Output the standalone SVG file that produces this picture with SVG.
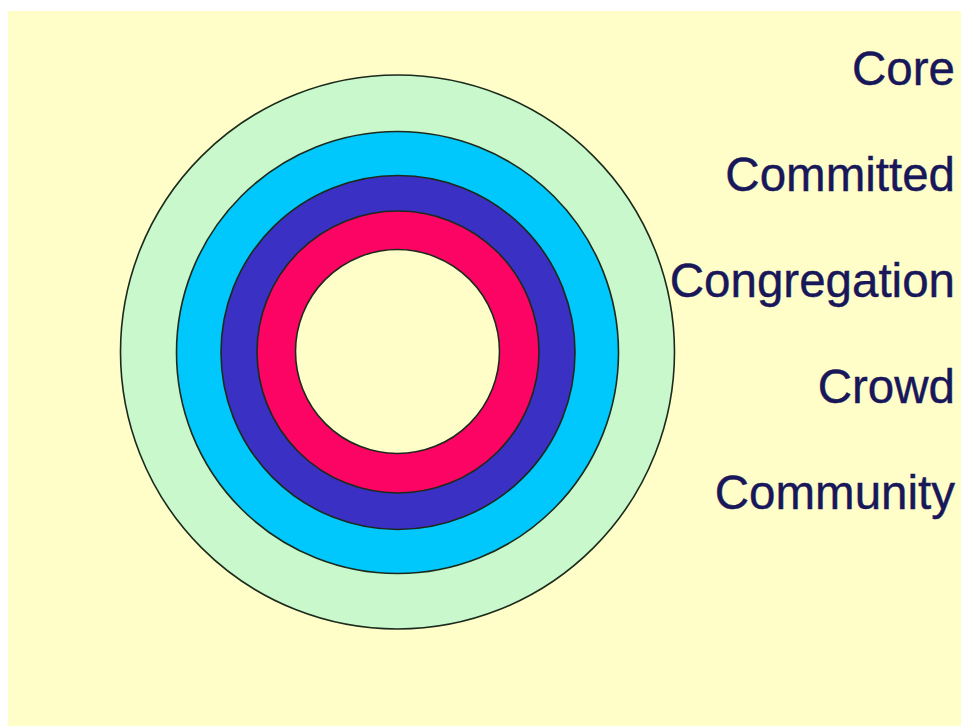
<svg xmlns="http://www.w3.org/2000/svg" width="961" height="726" viewBox="0 0 961 726">
  <style>
    .ring { stroke: #1c2a1c; stroke-width: 1.6; }
    .label { font-family: "Liberation Sans", Arial, sans-serif; font-size: 47.5px; fill: #17175a; text-anchor: end; stroke: #17175a; stroke-width: 0.4; }
  </style>
  <rect x="0" y="0" width="961" height="726" fill="#ffffff"/>
  <rect x="8" y="11" width="953" height="715" fill="#fffdc8"/>
  <g id="rings">
    <g id="ring-community"><circle class="ring" cx="397.5" cy="352" r="277" fill="#c8f8cc"/></g>
    <g id="ring-crowd"><circle class="ring" cx="397.5" cy="352.5" r="221" fill="#00c8fc"/></g>
    <g id="ring-congregation"><circle class="ring" cx="398" cy="352.5" r="177" fill="#3a30c4"/></g>
    <g id="ring-committed"><circle class="ring" cx="398" cy="352" r="141" fill="#fc0464"/></g>
    <g id="ring-core"><circle class="ring" cx="397.5" cy="351.5" r="102" fill="#fffdc8"/></g>
  </g>
  <g id="labels">
    <text class="label" x="955" y="85">Core</text>
    <text class="label" x="955" y="191">Committed</text>
    <text class="label" x="955" y="297">Congregation</text>
    <text class="label" x="955" y="403">Crowd</text>
    <text class="label" x="955" y="509">Community</text>
  </g>
</svg>
